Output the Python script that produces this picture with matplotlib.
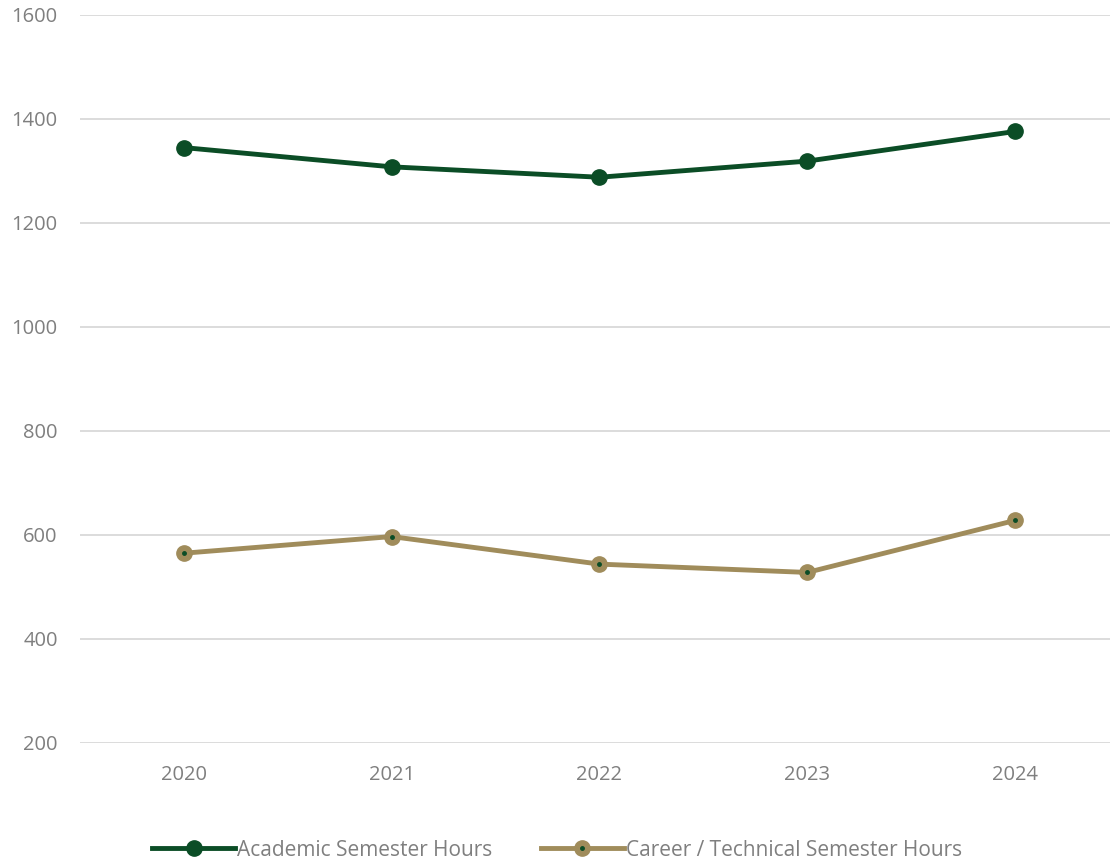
import matplotlib
matplotlib.use("Agg")
import matplotlib.pyplot as plt
from matplotlib.lines import Line2D

years = ["2020", "2021", "2022", "2023", "2024"]
academic = [1345, 1308, 1288, 1319, 1376]
career = [565, 597, 544, 528, 628]
y_ticks = [200, 400, 600, 800, 1000, 1200, 1400, 1600]

green = "#0B4D26"
tan = "#A08C5B"
grid_c = "#D9D9D9"
text_c = "#7F7F7F"

plt.rcParams['font.family'] = ['Open Sans', 'DejaVu Sans']

fig = plt.figure(figsize=(11.1, 8.65), dpi=100)
ax = fig.add_axes([80/1110, 1-743/865, 1030/1110, (743-15)/865])

x = list(range(len(years)))
ax.plot(x, academic, color=green, lw=3.5, marker='o', ms=11, mfc=green, mec=green, zorder=3)
ax.plot(x, career, color=tan, lw=3.5, marker='o', ms=11, mfc=tan, mec=tan, zorder=3)
ax.plot(x, career, ls='none', marker='o', ms=2.5, mfc=green, mec=green, zorder=4)

ax.set_ylim(200, 1600)
ax.set_yticks(y_ticks)
ax.set_xlim(-0.5, 4.457)
ax.set_xticks(x)
ax.set_xticklabels(years)
ax.grid(axis='y', color=grid_c, lw=1.3)
ax.set_axisbelow(True)
for s in ax.spines.values():
    s.set_visible(False)
ax.tick_params(axis='both', length=0, colors=text_c, labelsize=14.5)
ax.tick_params(axis='y', pad=16)
ax.tick_params(axis='x', pad=16)

h1 = Line2D([0], [0], color=green, lw=3.5, marker='o', ms=11, mfc=green, mec=green)
h2 = (Line2D([0], [0], color=tan, lw=3.5, marker='o', ms=11, mfc=tan, mec=tan),
      Line2D([0], [0], ls='none', marker='o', ms=2.5, mfc=green, mec=green))
leg = fig.legend([h1, h2], ["Academic Semester Hours", "Career / Technical Semester Hours"],
                 loc='center', bbox_to_anchor=(557/1110, 1-850/865), ncol=2, frameon=False,
                 fontsize=15, handlelength=4.0, handletextpad=0.1, columnspacing=2.3)
for t in leg.get_texts():
    t.set_color(text_c)

fig.savefig("out.png", dpi=100)
